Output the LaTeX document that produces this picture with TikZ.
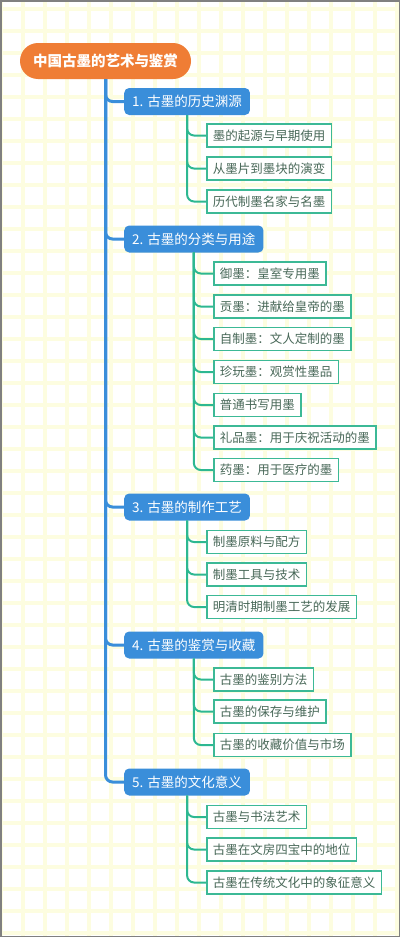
\documentclass[tikz,border=0pt]{standalone}
\usepackage{fontspec}
\newfontfamily\cjk{Noto Sans CJK SC}
\usepackage{xcolor}
\usepackage{tikz}
\usetikzlibrary{calc,positioning}

\definecolor{rootorange}{RGB}{239,125,53}
\definecolor{branchblue}{RGB}{58,142,218}
\definecolor{twiggreen}{RGB}{45,184,145}
\definecolor{leafline}{RGB}{60,185,150}
\definecolor{leaftext}{RGB}{72,104,88}
\definecolor{gridyellow}{RGB}{253,253,224}
\definecolor{framegray}{RGB}{128,128,128}

\tikzset{
  root/.style={fill=rootorange, text=white, rounded corners=18pt, minimum height=36pt, inner xsep=13pt, font=\cjk\bfseries\fontsize{14.5}{16}\selectfont},
  branch/.style={fill=branchblue, text=white, rounded corners=5pt, minimum height=27pt, inner xsep=8pt, anchor=west, font=\cjk\fontsize{13.5}{15}\selectfont},
  leaf/.style={draw=leafline, line width=1.5pt, fill=white, text=leaftext, minimum height=23pt, inner xsep=6pt, anchor=west, font=\cjk\fontsize{12.5}{14}\selectfont},
  trunk/.style={draw=branchblue, line width=3pt, rounded corners=7pt},
  twig/.style={draw=twiggreen, line width=2pt, rounded corners=7pt},
  gridline/.style={draw=gridyellow, line width=4pt}
}

\begin{document}
\begin{tikzpicture}[x=1pt,y=-1pt]
\newcommand{\leafbox}[5]{\node[leaf] (#1) at (#3,#4) {#5}; \draw[twig] (#2.south) |- (#1.west);}
% paper
\fill[white] (0,0) rectangle (400,937);
\useasboundingbox (0,0) rectangle (400,937);
\foreach \gx in {1,23,...,397} \draw[gridline] (\gx,0) -- (\gx,937);
\foreach \gy in {9,31,...,933} \draw[gridline] (0,\gy) -- (400,\gy);
\draw[framegray, line width=1.5pt] (0.75,0.75) rectangle (399.25,936.25);

% root and main branches
\node[root] (root) at (105.5,61) {中国古墨的艺术与鉴赏};
\node[branch] (b1) at (124,101.5) {1. 古墨的历史渊源};
\node[branch] (b2) at (124,239) {2. 古墨的分类与用途};
\node[branch] (b3) at (124,507) {3. 古墨的制作工艺};
\node[branch] (b4) at (124,645) {4. 古墨的鉴赏与收藏};
\node[branch] (b5) at (124,782) {5. 古墨的文化意义};
\foreach \b in {b1,b2,b3,b4,b5}
  \draw[trunk] (root.south) |- (\b.west);

% 1
\leafbox{l11}{b1}{206}{135.5}{墨的起源与早期使用}
\leafbox{l12}{b1}{206}{168.5}{从墨片到墨块的演变}
\leafbox{l13}{b1}{206}{201.5}{历代制墨名家与名墨}
% 2
\leafbox{l21}{b2}{213}{273.5}{御墨：皇室专用墨}
\leafbox{l22}{b2}{213}{306.5}{贡墨：进献给皇帝的墨}
\leafbox{l23}{b2}{213}{339}{自制墨：文人定制的墨}
\leafbox{l24}{b2}{213}{372}{珍玩墨：观赏性墨品}
\leafbox{l25}{b2}{213}{405}{普通书写用墨}
\leafbox{l26}{b2}{213}{437.5}{礼品墨：用于庆祝活动的墨}
\leafbox{l27}{b2}{213}{470}{药墨：用于医疗的墨}
% 3
\leafbox{l31}{b3}{206}{542}{制墨原料与配方}
\leafbox{l32}{b3}{206}{574.5}{制墨工具与技术}
\leafbox{l33}{b3}{206}{607}{明清时期制墨工艺的发展}
% 4
\leafbox{l41}{b4}{213}{679.5}{古墨的鉴别方法}
\leafbox{l42}{b4}{213}{711.5}{古墨的保存与维护}
\leafbox{l43}{b4}{213}{745}{古墨的收藏价值与市场}
% 5
\leafbox{l51}{b5}{206}{817}{古墨与书法艺术}
\leafbox{l52}{b5}{206}{849.5}{古墨在文房四宝中的地位}
\leafbox{l53}{b5}{206}{882.5}{古墨在传统文化中的象征意义}
\end{tikzpicture}
\end{document}
